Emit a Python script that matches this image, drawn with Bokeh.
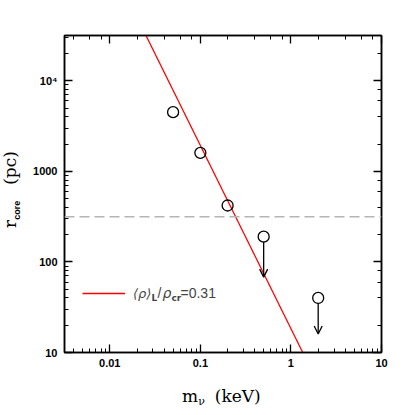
import math
from bokeh.plotting import figure
from bokeh.layouts import column, row
from bokeh.models import (LogAxis, Span, Arrow, OpenHead, Label, CustomJSTickFormatter,
                          ColumnDataSource, Legend, LegendItem, Div)
from bokeh.embed import file_html
from bokeh.resources import INLINE

# ---- data ----
m_det = [0.05, 0.1, 0.2]
r_det = [4500, 1600, 420]
m_lim = [0.5, 2.0]
r_lim = [190, 40]
r_lim_tip = [68, 16]
model_m = [0.0251, 1.35]
model_r = [31623, 10]
rho_ratio = 0.31
r_dashed = 316

XMIN, XMAX = 10 ** -2.5, 10.0
YMIN, YMAX = 10.0, 10 ** 4.5

W1 = 24                      # width of the y-title column
FL, FT, FW, FH = 64, 35, 317, 317  # frame position on page
BOTTOM = 28


def X(px):
    return 10 ** (math.log10(XMIN) + (px - FL) / FW * (math.log10(XMAX) - math.log10(XMIN)))


def Y(py):
    return 10 ** (math.log10(YMIN) + (FT + FH - py) / FH * (math.log10(YMAX) - math.log10(YMIN)))


p = figure(x_axis_type="log", y_axis_type="log", x_range=(XMIN, XMAX), y_range=(YMIN, YMAX),
           frame_width=FW, frame_height=FH, min_border_left=FL - W1, min_border_top=FT,
           min_border_right=20, min_border_bottom=BOTTOM,
           output_backend="svg", toolbar_location=None, margin=0)
p.xgrid.visible = False
p.ygrid.visible = False
p.outline_line_color = "black"
p.outline_line_width = 1.5
p.background_fill_color = "white"

xfmt = CustomJSTickFormatter(code="""
if (tick >= 1) return tick.toFixed(0);
return String(Number(tick.toPrecision(1)));
""")
yfmt = CustomJSTickFormatter(code="""
if (tick > 5000) return '10\\u2074';
return Number(tick.toPrecision(2)).toFixed(0);
""")
p.xaxis.formatter = xfmt
p.yaxis.formatter = yfmt

for ax in (p.xaxis[0], p.yaxis[0]):
    ax.major_tick_in = 8
    ax.major_tick_out = 0
    ax.minor_tick_in = 4
    ax.minor_tick_out = 0
    ax.axis_line_width = 1.5
    ax.major_tick_line_width = 1.3
    ax.minor_tick_line_width = 1.0
    ax.major_label_text_font = "Liberation Sans"
    ax.major_label_text_font_style = "bold"
    ax.major_label_text_font_size = "11px"
    ax.major_label_text_color = "black"
p.xaxis.major_label_standoff = 6
p.yaxis.major_label_standoff = 7

for loc in ("above", "right"):
    ax = LogAxis(major_tick_in=8, major_tick_out=0, minor_tick_in=4, minor_tick_out=0,
                 axis_line_width=1.5, major_tick_line_width=1.3, minor_tick_line_width=1.0,
                 major_label_text_font_size="2px", major_label_text_alpha=0,
                 major_label_standoff=0)
    p.add_layout(ax, loc)

# dashed horizontal line
p.add_layout(Span(location=r_dashed, dimension="width", line_color="#b5b5b5",
                  line_dash="10 5", line_width=1.5))

# model line
line_r = p.line(model_m, model_r, line_color="red", line_width=1.3)

# detections
p.scatter(m_det, r_det, marker="circle", size=11, fill_color=None,
          line_color="black", line_width=1.3)
# upper limits
p.scatter(m_lim, r_lim, marker="circle", size=11, fill_color=None,
          line_color="black", line_width=1.3)
src = ColumnDataSource(dict(x=m_lim, ys=[v * 0.88 for v in r_lim], ye=r_lim_tip))
p.add_layout(Arrow(end=OpenHead(size=8, line_width=1.3, line_color="black"),
                   x_start="x", y_start="ys", x_end="x", y_end="ye", source=src,
                   line_width=1.3, line_color="black"))

# legend
leg = Legend(items=[LegendItem(label="\u27e8\u03c1\u27e9", renderers=[line_r])],
             location=(18, 51), padding=0, margin=0, glyph_width=43, glyph_height=16,
             label_standoff=8, border_line_alpha=0, background_fill_alpha=0,
             label_text_font="DejaVu Sans", label_text_font_size="13px",
             label_text_font_style="italic", label_text_baseline="middle")
p.add_layout(leg, "center")

LY = 292
lbls = [
    ("L", 151, LY + 5, "9px", "bold", "DejaVu Sans"),
    ("/", 157, LY, "14px", "normal", "Liberation Sans"),
    ("\u03c1", 162, LY, "14px", "italic", "DejaVu Sans"),
    ("cr", 171, LY + 5, "9px", "bold", "DejaVu Sans"),
    ("=" + f"{rho_ratio:.2f}", 180, LY, "14px", "normal", "Liberation Sans"),
]
for t, px, py, fs, st, fnt in lbls:
    p.add_layout(Label(x=X(px), y=Y(py), text=t, text_font=fnt, text_font_size=fs,
                       text_font_style=st, text_baseline="middle", text_align="left"))

# axis titles as HTML text (with subscripts)
ytitle = Div(width=W1, height=FT + FH + BOTTOM, margin=0, text=(
    "<div style=\"position:absolute;left:2px;top:228px;transform:rotate(-90deg);"
    "transform-origin:0 0;white-space:nowrap;font-family:'DejaVu Serif';font-size:17px;"
    "line-height:17px;color:black;\">r<span style=\"font-family:'Liberation Sans';"
    "font-weight:bold;font-size:9px;position:relative;top:4px;\">core</span>"
    "<span style=\"margin-left:16px\">(pc)</span></div>"))
xtitle = Div(width=W1 + p.min_border_left + FW + 20, height=35, margin=0, text=(
    "<div style=\"position:absolute;left:182px;top:8px;white-space:nowrap;"
    "font-family:'DejaVu Serif';font-size:17px;line-height:17px;color:black;\">m"
    "<span style=\"font-size:11px;position:relative;top:3px;\">\u03bd</span>"
    "<span style=\"margin-left:10px\">(keV)</span></div>"))

layout = column(row(ytitle, p, spacing=0), xtitle, spacing=0)
open("out.html", "w").write(file_html(layout, INLINE))
